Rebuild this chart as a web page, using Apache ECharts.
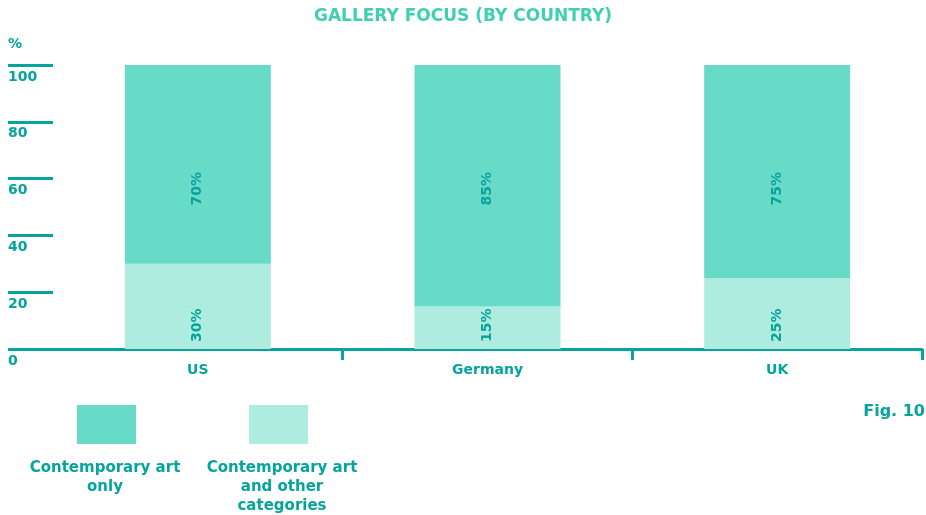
<!DOCTYPE html>
<html>
<head>
<meta charset="utf-8">
<script src="https://cdn.jsdelivr.net/npm/echarts@6/dist/echarts.min.js"></script>
<style>html,body{margin:0;padding:0;background:#fff}#c{width:926px;height:515px}</style>
</head>
<body>
<div id="c"></div>
<script>
const categories = ['US', 'Germany', 'UK'];
const onlyValues = [70, 85, 75];
const otherValues = [30, 15, 25];
const seriesNames = ['Contemporary art only', 'Contemporary art and other categories'];
const legendCaptions = ['Contemporary art\nonly', 'Contemporary art\nand other\ncategories'];
const yMin = 0, yMax = 100, yStep = 20;
const titleText = 'GALLERY FOCUS (BY COUNTRY)';
const figText = 'Fig. 10';

const TEAL = '#07a39d';
const DARK = '#67dbc8';
const LIGHT = '#afece0';
const FONT = '"DejaVu Sans", sans-serif';

const chart = echarts.init(document.getElementById('c'), null, {renderer: 'canvas'});
const labelBase = {show: true, rotate: 90, formatter: '{c}%', color: TEAL,
  fontWeight: 'bold', fontSize: 14, fontFamily: FONT, verticalAlign: 'middle'};
const option = {
  animation: false,
  textStyle: {fontFamily: FONT},
  title: {
    text: titleText, left: 'center', top: 3,
    textStyle: {color: '#3fcfb3', fontSize: 17, fontWeight: 'bold', fontFamily: FONT}
  },
  grid: [
    {left: 53, right: 4, top: 65, bottom: 166},
    {left: 8, width: 45, top: 65, bottom: 166}
  ],
  xAxis: [
    {
      type: 'category', gridIndex: 0, data: categories,
      axisLine: {lineStyle: {color: TEAL, width: 3}},
      axisTick: {show: false},
      axisLabel: {color: TEAL, fontWeight: 'bold', fontSize: 14, margin: 14, fontFamily: FONT}
    },
    {
      type: 'value', gridIndex: 0, min: 0, max: categories.length, position: 'bottom',
      axisLine: {show: false}, axisLabel: {show: false}, splitLine: {show: false},
      axisTick: {show: true, length: 11, customValues: [1, 2, 3], lineStyle: {color: TEAL, width: 3}}
    },
    {type: 'value', gridIndex: 1, show: false, min: 0, max: 1}
  ],
  yAxis: [
    {type: 'value', gridIndex: 0, min: yMin, max: yMax, interval: yStep, show: false},
    {
      type: 'value', gridIndex: 1, min: yMin, max: yMax, interval: yStep,
      name: '%', nameLocation: 'end', nameGap: 14,
      nameTextStyle: {color: TEAL, fontWeight: 'bold', fontSize: 14, align: 'left', fontFamily: FONT},
      axisLine: {show: false}, axisTick: {show: false},
      splitLine: {show: true, lineStyle: {color: TEAL, width: 3}},
      axisLabel: {inside: true, align: 'left', verticalAlign: 'top', margin: 0,
        padding: [5, 0, 0, 0], color: TEAL, fontWeight: 'bold', fontSize: 14, fontFamily: FONT}
    }
  ],
  legend: [
    {data: [seriesNames[0]], left: 77, top: 405, itemWidth: 59, itemHeight: 39, padding: 0,
      icon: 'rect', formatter: () => '', selectedMode: false},
    {data: [seriesNames[1]], left: 249, top: 405, itemWidth: 59, itemHeight: 39, padding: 0,
      icon: 'rect', formatter: () => '', selectedMode: false}
  ],
  series: [
    {
      name: seriesNames[1], type: 'bar', stack: 'a', xAxisIndex: 0, yAxisIndex: 0,
      data: otherValues, barWidth: 146, itemStyle: {color: LIGHT},
      label: Object.assign({}, labelBase, {position: 'insideBottom', align: 'left', distance: 7})
    },
    {
      name: seriesNames[0], type: 'bar', stack: 'a', xAxisIndex: 0, yAxisIndex: 0,
      data: onlyValues, barWidth: 146, itemStyle: {color: DARK},
      label: Object.assign({}, labelBase, {position: 'insideTop', align: 'right', distance: 107})
    }
  ],
  graphic: [
    {type: 'text', x: 105, y: 459, style: {text: legendCaptions[0], align: 'center', verticalAlign: 'top',
      fill: TEAL, font: 'bold 15px ' + FONT, lineHeight: 19}},
    {type: 'text', x: 282, y: 459, style: {text: legendCaptions[1], align: 'center', verticalAlign: 'top',
      fill: TEAL, font: 'bold 15px ' + FONT, lineHeight: 19}},
    {type: 'text', x: 925, y: 404, style: {text: figText, align: 'right', verticalAlign: 'top',
      fill: TEAL, font: 'bold 16px ' + FONT}}
  ]
};
chart.setOption(option);
</script>
</body>
</html>
